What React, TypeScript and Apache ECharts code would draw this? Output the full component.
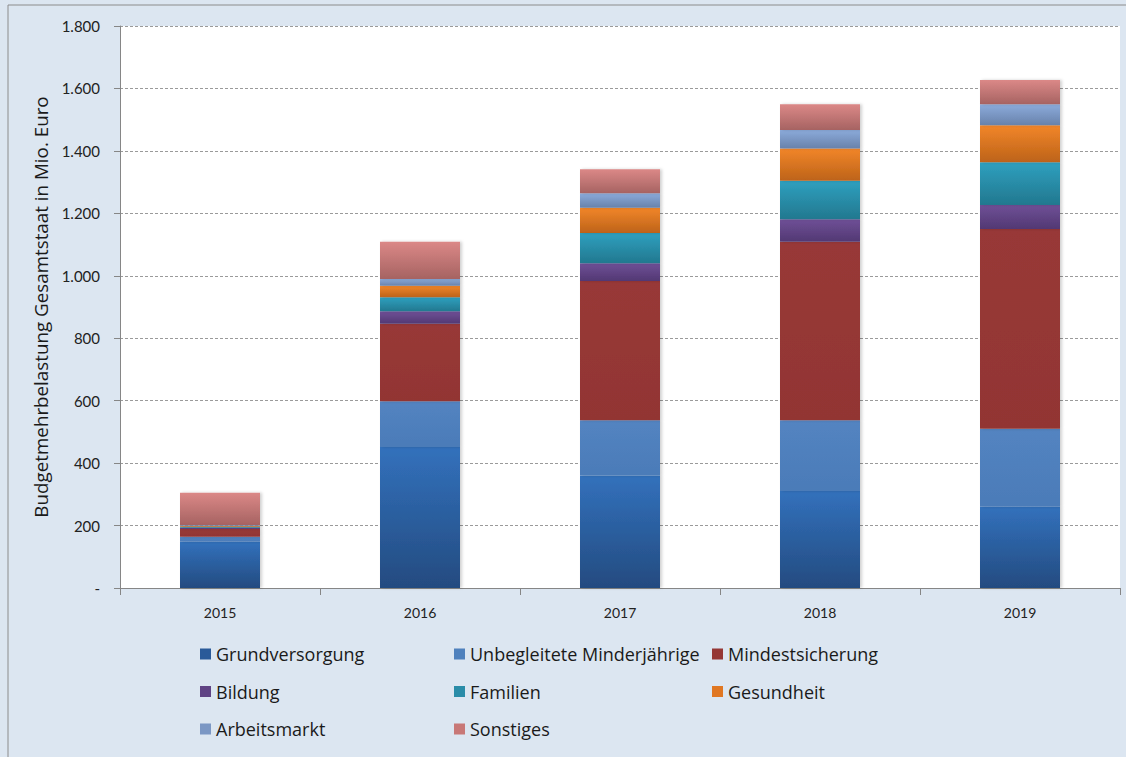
import React, { useEffect, useRef } from "react";
import * as echarts from "echarts";

const years = ["2015", "2016", "2017", "2018", "2019"];
const grundversorgung = [148, 452, 360, 311, 260];
const unbegleitete = [16, 146, 177, 226, 250];
const mindestsicherung = [25, 248, 446, 572, 640];
const bildung = [4, 40, 57, 72, 77];
const familien = [3, 45, 97, 123, 137];
const gesundheit = [3, 37, 81, 104, 118];
const arbeitsmarkt = [3, 22, 46, 59, 67];
const sonstiges = [103, 119, 77, 82, 78];
const yTicks = [0, 200, 400, 600, 800, 1000, 1200, 1400, 1600, 1800];

const FONT = "Lato, 'Noto Sans', sans-serif";
const WIDE = "'Open Sans', 'Noto Sans', sans-serif";

function grad(top: string, bottom: string) {
  return new echarts.graphic.LinearGradient(0, 0, 0, 1, [
    { offset: 0, color: top },
    { offset: 1, color: bottom },
  ]);
}

const seriesDefs = [
  { name: "Grundversorgung", data: grundversorgung, top: "#3271bc", bottom: "#244b80", legend: "#2a5a99" },
  { name: "Unbegleitete Minderjährige", data: unbegleitete, top: "#5384c1", bottom: "#4b7bb8", legend: "#4f81bd" },
  { name: "Mindestsicherung", data: mindestsicherung, top: "#983937", bottom: "#923533", legend: "#953735" },
  { name: "Bildung", data: bildung, top: "#6f5097", bottom: "#523873", legend: "#5f4384" },
  { name: "Familien", data: familien, top: "#2fa0bf", bottom: "#22788f", legend: "#2a8ca8" },
  { name: "Gesundheit", data: gesundheit, top: "#f2862a", bottom: "#bd6319", legend: "#e07722" },
  { name: "Arbeitsmarkt", data: arbeitsmarkt, top: "#8cabdb", bottom: "#6882ab", legend: "#7b97c4" },
  { name: "Sonstiges", data: sonstiges, top: "#db8887", bottom: "#a66362", legend: "#c87877" },
];

export default function App() {
  const ref = useRef<HTMLDivElement>(null);
  useEffect(() => {
    if (!ref.current) return;
    const chart = echarts.init(ref.current, undefined, { renderer: "svg" });
    const legendCols = [
      { names: ["Grundversorgung", "Bildung", "Arbeitsmarkt"], left: 200 },
      { names: ["Unbegleitete Minderjährige", "Familien", "Sonstiges"], left: 454 },
      { names: ["Mindestsicherung", "Gesundheit"], left: 712 },
    ];
    chart.setOption({
      animation: false,
      backgroundColor: "#dce6f1",
      textStyle: { fontFamily: FONT },
      graphic: [
        {
          type: "rect",
          shape: { x: 8, y: 5, width: 1130, height: 770 },
          style: { fill: "none", stroke: "#8c8c8c", lineWidth: 1 },
          silent: true,
        },
      ],
      legend: legendCols.map((c) => ({
        orient: "vertical",
        left: c.left,
        top: 644,
        padding: 0,
        itemWidth: 11,
        itemHeight: 11,
        itemGap: 17.5,
        icon: "rect",
        selectedMode: false,
        textStyle: { fontSize: 18, color: "#1a1a1a", fontFamily: WIDE, lineHeight: 20 },
        data: c.names.map((n) => {
          const d = seriesDefs.find((s) => s.name === n)!;
          return { name: n, itemStyle: { color: d.legend } };
        }),
      })),
      grid: {
        left: 120,
        right: 6,
        top: 26,
        bottom: 169,
        show: true,
        backgroundColor: "#ffffff",
        borderWidth: 0,
      },
      xAxis: {
        type: "category",
        data: years,
        axisLine: { show: true, lineStyle: { color: "#868686", width: 1 } },
        axisTick: { show: true, length: 7, lineStyle: { color: "#868686" } },
        axisLabel: { fontSize: 14, color: "#222", margin: 17, fontFamily: FONT },
      },
      yAxis: {
        type: "value",
        min: 0,
        max: 1800,
        interval: 200,
        name: "Budgetmehrbelastung Gesamtstaat in Mio. Euro",
        nameLocation: "middle",
        nameRotate: 90,
        nameGap: 70,
        nameTextStyle: { fontSize: 18.8, color: "#1a1a1a", fontFamily: WIDE },
        axisLine: { show: true, lineStyle: { color: "#868686", width: 1 } },
        axisTick: { show: true, inside: false, length: 6, lineStyle: { color: "#868686" } },
        axisLabel: {
          fontSize: 15,
          color: "#222",
          margin: 20,
          fontFamily: FONT,
          customValues: yTicks,
          formatter: (v: number) =>
            v === 0 ? "-" : String(v).replace(/\B(?=(\d{3})+(?!\d))/g, "."),
        },
        splitLine: { show: true, lineStyle: { color: "#9a9a9a", type: [3, 2], width: 1 } },
      },
      series: seriesDefs.map((s) => ({
        name: s.name,
        type: "bar",
        stack: "total",
        barWidth: "40%",
        data: s.data,
        itemStyle: {
          color: grad(s.top, s.bottom),
          shadowColor: "rgba(0,0,0,0.18)",
          shadowBlur: 3,
          shadowOffsetX: 2,
        },
      })),
    });
    return () => chart.dispose();
  }, []);
  return (
    <div
      ref={ref}
      style={{ position: "absolute", left: 0, top: 0, width: 1126, height: 757 }}
    />
  );
}
